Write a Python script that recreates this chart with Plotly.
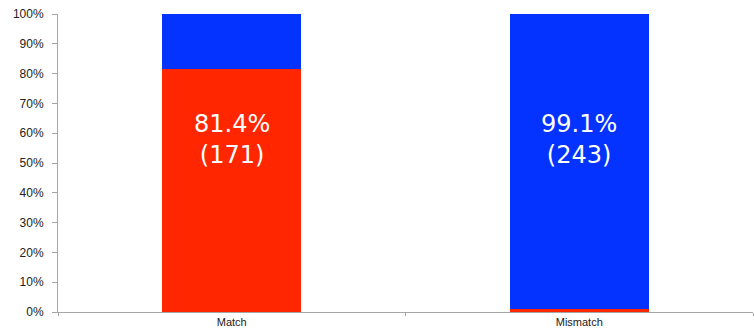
import plotly.graph_objects as go

categories = ["Match", "Mismatch"]
red_pct = [81.4, 0.9]
blue_pct = [18.6, 99.1]
label_pct = ["81.4%", "99.1%"]
label_count = ["(171)", "(243)"]
y_ticks = [0, 10, 20, 30, 40, 50, 60, 70, 80, 90, 100]
y_tick_labels = ["0%", "10%", "20%", "30%", "40%", "50%", "60%", "70%", "80%", "90%", "100%"]

RED = "#FF2600"
BLUE = "#0433FF"

fig = go.Figure()
fig.add_bar(x=categories, y=red_pct, marker=dict(color=RED, line=dict(width=0)),
            width=0.4, hoverinfo="skip")
fig.add_bar(x=categories, y=blue_pct, marker=dict(color=BLUE, line=dict(width=0)),
            width=0.4, hoverinfo="skip")

for c, p, n in zip(categories, label_pct, label_count):
    fig.add_annotation(x=c, y=58, text=p + "<br>" + n, showarrow=False,
                       font=dict(family="DejaVu Sans", size=24, color="white"))

fig.update_layout(
    barmode="stack",
    width=754, height=328,
    margin=dict(l=58, r=1, t=14, b=16),
    paper_bgcolor="white", plot_bgcolor="white",
    showlegend=False,
    bargap=0,
    font=dict(family="Liberation Sans, Arial", size=11, color="#333333"),
)
fig.update_xaxes(
    range=[-0.5, 1.5], showline=True, linecolor="#a6a6a6", linewidth=1,
    ticks="outside", tickson="boundaries", ticklen=3, tickcolor="#a6a6a6",
    showgrid=False, zeroline=False, tickfont=dict(size=11, color="#222222"),
)
fig.update_yaxes(
    range=[0, 100], tickvals=y_ticks, ticktext=y_tick_labels, showline=True,
    linecolor="#a6a6a6", linewidth=1, ticks="outside", ticklen=5, tickcolor="#a6a6a6",
    showgrid=False, zeroline=False, tickfont=dict(size=12, color="#222222"),
    ticklabelstandoff=6,
)

fig.write_html("out.html", config={"displayModeBar": False},
               post_script="document.body.style.margin='0';")
